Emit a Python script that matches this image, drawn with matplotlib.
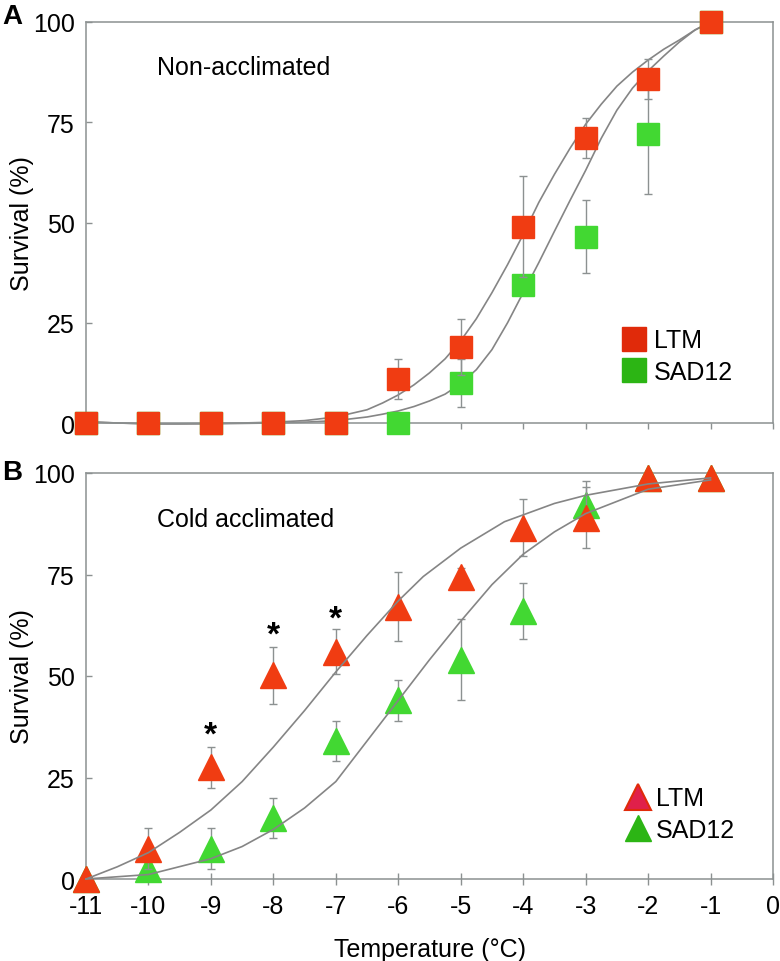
import matplotlib
matplotlib.use("Agg")
import matplotlib.pyplot as plt
from matplotlib.lines import Line2D

plt.rcParams['font.family'] = ['Liberation Sans', 'DejaVu Sans']

# ---------------- data ----------------
temps = [-11, -10, -9, -8, -7, -6, -5, -4, -3, -2, -1]
xticks = [-11, -10, -9, -8, -7, -6, -5, -4, -3, -2, -1, 0]
yticks = [0, 25, 50, 75, 100]

# Panel A (non-acclimated)
a_ltm = [0, 0, 0, 0, 0, 11, 19, 49, 71, 85.7, 100]
a_ltm_err = [0, 0, 0, 0, 0, 5, 7, 12.5, 5, 5, 0]
a_sad = [0, 0, 0, 0, 0, 0, 10, 34.5, 46.5, 72, 100]
a_sad_err = [0, 0, 0, 0, 0, 0, 6, 2, 9, 15, 0]

# fitted curves
a_fit_x = [-11, -10.5, -10, -9.5, -9, -8.5, -8, -7.5, -7, -6.5, -6.25, -6,
           -5.75, -5.5, -5.25, -5, -4.75, -4.5, -4.25, -4, -3.75, -3.5, -3.25,
           -3, -2.75, -2.5, -2.25, -2, -1.75, -1.5, -1.25, -1]
a_fit_ltm = [0.3, 0, -0.2, -0.2, -0.1, 0, 0.2, 0.6, 1.5, 3.3, 5, 7,
             9.5, 12.5, 16, 20.5, 26, 32.5, 39.5, 47, 55, 62, 68.5,
             74.5, 79.5, 84, 87.5, 90.5, 93.2, 95.5, 98, 100]
a_fit_sad = [0.3, 0, -0.2, -0.2, -0.2, -0.1, 0, 0.2, 0.6, 1.5, 2.2, 3,
             4.1, 5.5, 7.2, 9.8, 13.3, 18.3, 25, 32.5, 40, 47.8, 55.5,
             63, 71, 78, 83.5, 87.8, 91.5, 95, 98, 100]

# Panel B (cold acclimated)
b_ltm = [0, 7.5, 27.5, 50.2, 56, 67, 74.5, 86.5, 89, 98.8, 98.8]
b_ltm_err = [0, 5, 5, 7, 5.5, 8.5, 2, 7, 7.5, 1, 1]
b_sad = [0, 2.5, 7.5, 15, 34, 44, 54, 66, 92, 98.8, 98.8]
b_sad_err = [0, 2, 5, 5, 5, 5, 10, 7, 6, 1, 1]

b_fit_ltm_x = [-11, -10.5, -10, -9.5, -9, -8.5, -8, -7.5, -7, -6.5, -6, -5.6,
               -5, -4.3, -3.5, -3, -2, -1]
b_fit_ltm = [0, 3, 6.5, 11.5, 17, 24, 32.5, 41.5, 51, 60, 68.5, 74.5,
             81.5, 88, 92.5, 94.5, 97.3, 98.8]
b_fit_sad_x = [-11, -10, -9, -8.5, -8, -7.5, -7, -6.5, -6, -5.5, -5, -4.5,
               -4, -3.5, -3, -2, -1]
b_fit_sad = [0, 1.1, 5, 8, 12.2, 17.5, 24, 34, 44, 54, 63.5, 72.5,
             80, 85.5, 90, 96, 98.3]

star_x = [-9, -8, -7]
star_y = [35.5, 60, 64]

# ---------------- style ----------------
RED = '#f03c12'
GREEN = '#42d832'
RED_LEG = '#e02a0a'
GREEN_LEG = '#2cb514'
GRAY = '#8c9191'
CURVE = '#858585'
FS = 18

W, H = 780, 962
fig = plt.figure(figsize=(W / 100, H / 100), dpi=100)

def px_axes(left, right, top, bottom):
    return fig.add_axes([left / W, 1 - bottom / H, (right - left) / W, (bottom - top) / H])

axA = px_axes(86, 773, 23, 424)
axB = px_axes(86, 773, 474, 880)

for ax in (axA, axB):
    ax.set_xlim(-11, 0)
    ax.set_ylim(0, 100)
    ax.set_xticks(xticks)
    ax.set_yticks(yticks)
    for s in ax.spines.values():
        s.set_color(GRAY)
        s.set_linewidth(1.1)
    ax.tick_params(axis='y', direction='in', length=4, width=1, color=GRAY,
                   labelsize=FS, pad=8)
    ax.set_ylabel('Survival (%)', fontsize=FS)
    ax.yaxis.set_label_coords((34 - 86) / 687, 0.5)

axA.tick_params(axis='x', direction='out', length=4, width=1, color=GRAY,
                labelbottom=False)
axB.tick_params(axis='x', direction='inout', length=9, width=1, color=GRAY,
                labelsize=FS, pad=6)
axB.set_xticklabels([str(t) for t in xticks])
axB.set_xlabel('Temperature (°C)', fontsize=FS, labelpad=14)

# ---- Panel A ----
axA.plot(a_fit_x, a_fit_ltm, color=CURVE, lw=1.2, zorder=2, clip_on=False)
axA.plot(a_fit_x, a_fit_sad, color=CURVE, lw=1.2, zorder=2, clip_on=False)
axA.errorbar(temps, a_sad, yerr=a_sad_err, fmt='s', ms=16.5, mfc=GREEN, mec=GREEN,
             ecolor=GRAY, elinewidth=1, capsize=3, capthick=1, zorder=3, clip_on=False)
axA.errorbar(temps, a_ltm, yerr=a_ltm_err, fmt='s', ms=16.5, mfc=RED, mec=RED,
             ecolor=GRAY, elinewidth=1, capsize=3, capthick=1, zorder=4, clip_on=False)
axA.text(-9.86, 88.8, 'Non-acclimated', fontsize=FS, ha='left', va='center')

handlesA = [Line2D([], [], marker='s', ls='none', ms=17, mfc=RED_LEG, mec=RED_LEG),
            Line2D([], [], marker='s', ls='none', ms=17, mfc=GREEN_LEG, mec=GREEN_LEG)]
axA.legend(handlesA, ['LTM', 'SAD12'], loc='center left',
           bbox_to_anchor=((609 - 86) / 687, (424 - 357) / 401), frameon=False,
           fontsize=FS, handlelength=1.0, handletextpad=0.3, labelspacing=0.3,
           borderpad=0)

# ---- Panel B ----
axB.plot(b_fit_ltm_x, b_fit_ltm, color=CURVE, lw=1.2, zorder=5, clip_on=False)
axB.plot(b_fit_sad_x, b_fit_sad, color=CURVE, lw=1.2, zorder=5, clip_on=False)
axB.errorbar(temps, b_sad, yerr=b_sad_err, fmt='^', ms=19, mfc=GREEN, mec=GREEN,
             ecolor=GRAY, elinewidth=1, capsize=3, capthick=1, zorder=3, clip_on=False)
axB.errorbar(temps, b_ltm, yerr=b_ltm_err, fmt='^', ms=19, mfc=RED, mec=RED,
             ecolor=GRAY, elinewidth=1, capsize=3, capthick=1, zorder=4, clip_on=False)
for sx, sy in zip(star_x, star_y):
    axB.text(sx, sy, '*', fontsize=24, fontweight='bold', ha='center', va='center')
axB.text(-9.86, 88.7, 'Cold acclimated', fontsize=FS, ha='left', va='center')

handlesB = [Line2D([], [], marker='^', ls='none', ms=19, mfc='#e0204a', mec=RED_LEG, mew=1.5),
            Line2D([], [], marker='^', ls='none', ms=19, mfc=GREEN_LEG, mec=GREEN_LEG)]
axB.legend(handlesB, ['LTM', 'SAD12'], loc='center left',
           bbox_to_anchor=((613 - 86) / 687, (880 - 815) / 406), frameon=False,
           fontsize=FS, handlelength=1.0, handletextpad=0.2, labelspacing=0.3,
           borderpad=0)

fig.text(2 / W, 1 - 17 / H, 'A', fontsize=20, fontweight='bold', ha='left', va='center')
fig.text(2 / W, 1 - 473 / H, 'B', fontsize=20, fontweight='bold', ha='left', va='center')

fig.savefig('out.png', dpi=100)
